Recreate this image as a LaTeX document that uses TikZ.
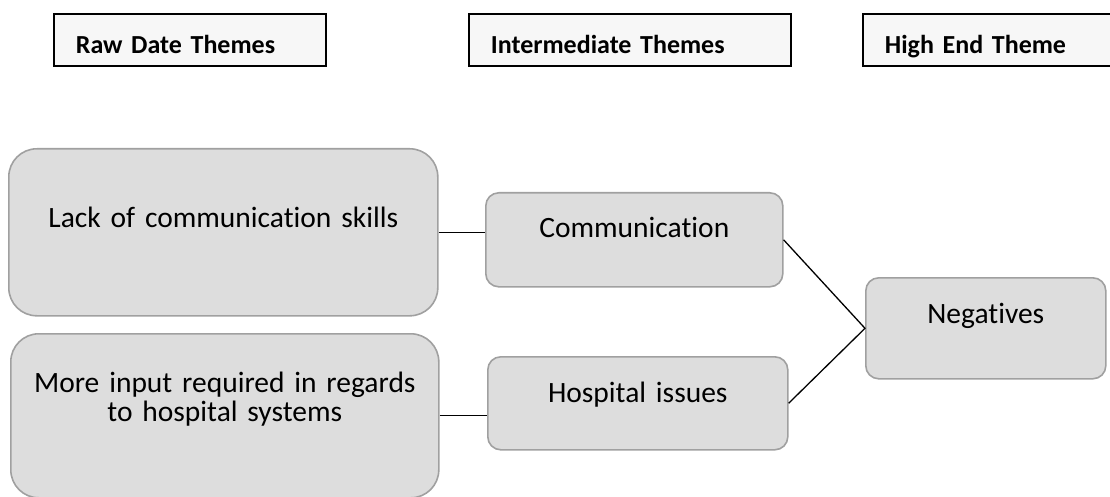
\documentclass[tikz,border=0pt]{standalone}
\usepackage{fontspec}
\setmainfont{Carlito}[Ligatures=NoCommon]
\usepackage{tikz}
\usetikzlibrary{calc}
\definecolor{themefill}{RGB}{221,221,221}
\definecolor{themeline}{RGB}{160,160,160}
\definecolor{headfill}{RGB}{247,247,247}
\newcommand\bodysize{\fontsize{29.5}{28.5}\selectfont\spaceskip=0.15em\relax}
\newcommand\headsize{\fontsize{26}{28}\selectfont\bfseries}

\begin{document}
\begin{tikzpicture}[x=1pt, y=-1pt,
        headbox/.style={draw=black, line width=1.8pt, fill=headfill, anchor=north west, inner xsep=22pt, inner ysep=0pt, align=left, text height=40pt, text depth=12pt, font=\headsize},
        themebox/.style={draw=themeline, line width=1.6pt, fill=themefill, rounded corners=13pt, anchor=north west, inner sep=0pt, align=center, font=\bodysize},
        link/.style={draw=black, line width=1.3pt}]
        \useasboundingbox (0,0) rectangle (1110,497);
        \node[headbox, text width=228pt] (raw)   at (53, 13)  {Raw Date Themes};
        \node[headbox, text width=278pt] (inter) at (468, 13) {Intermediate Themes};
        \node[headbox, text width=214pt] (high)  at (862, 13) {High End Theme};
        \node[themebox, rounded corners=28pt, text width=429pt, text height=79pt, text depth=88pt]   (lack)  at (8, 148)   {Lack of communication skills};
        \node[themebox, rounded corners=28pt, text width=428pt, text height=58.7pt, text depth=105.3pt] (input) at (10, 333) {More input required in regards\\to hospital systems};
        \node[themebox, text width=297pt, text height=45pt, text depth=49pt] (comm) at (485, 192) {Communication};
        \node[themebox, text width=300pt, text height=46pt, text depth=47pt] (hosp) at (487, 356) {Hospital issues};
        \node[themebox, text width=240pt, text height=46pt, text depth=55pt] (neg)  at (865, 277) {Negatives};
        \draw[link] (lack.east) -- (lack.east -| comm.west);
        \draw[link] (input.east) -- (input.east -| hosp.west);
        \draw[link] (comm.east) -- (neg.west) -- (hosp.east);
    \end{tikzpicture}
\end{document}
